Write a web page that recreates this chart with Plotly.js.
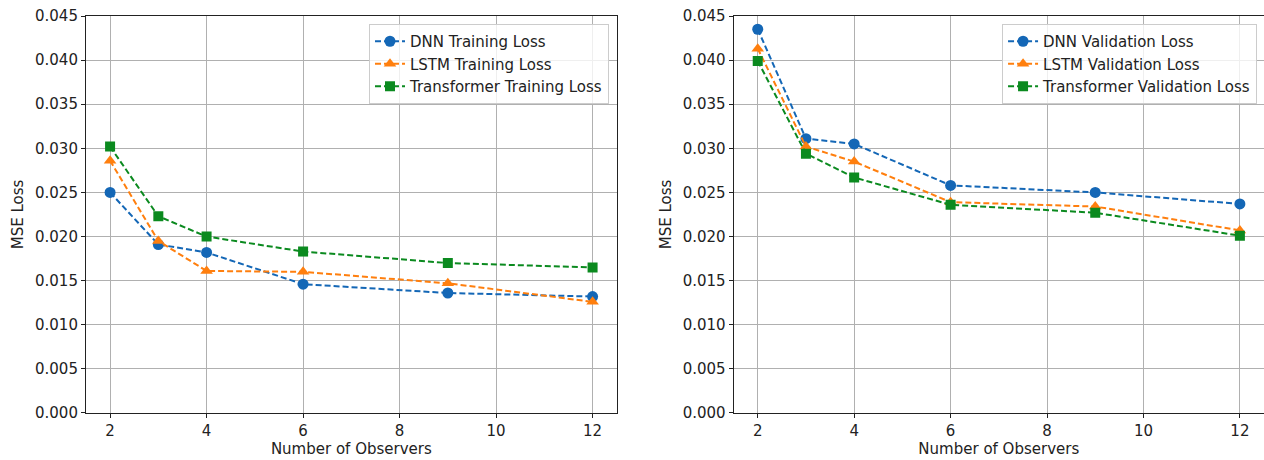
<!DOCTYPE html>
<html>
<head>
<meta charset="utf-8">
<script src="https://cdn.plot.ly/plotly-3.0.1.min.js"></script>
<style>html,body{margin:0;padding:0;background:#fff;}#chart{width:1264px;height:460px;}</style>
</head>
<body>
<div id="chart"></div>
<script>
const observers = [2, 3, 4, 6, 9, 12];

const dnnTrain = [0.0250, 0.0191, 0.0182, 0.0146, 0.0136, 0.0132];
const lstmTrain = [0.0286, 0.0195, 0.0161, 0.0160, 0.0147, 0.0126];
const transTrain = [0.0302, 0.0223, 0.0200, 0.0183, 0.0170, 0.0165];

const dnnVal = [0.0435, 0.0311, 0.0305, 0.0258, 0.0250, 0.0237];
const lstmVal = [0.0413, 0.0302, 0.0285, 0.0239, 0.0234, 0.0207];
const transVal = [0.0399, 0.0294, 0.0267, 0.0236, 0.0227, 0.0201];

const trainNames = ['DNN Training Loss', 'LSTM Training Loss', 'Transformer Training Loss'];
const valNames = ['DNN Validation Loss', 'LSTM Validation Loss', 'Transformer Validation Loss'];

const colors = ['#1467b6', '#ff7f0e', '#0b8a1f'];
const symbols = ['circle', 'triangle-up', 'square'];
const msizes = [11, 11, 10];
const dashPat = '6px,3px';

function mk(y, i, name, xa, ya, leg) {
  return {
    x: observers, y: y, name: name, type: 'scatter', mode: 'lines+markers',
    xaxis: xa, yaxis: ya, legend: leg,
    line: {color: colors[i], width: 2, dash: dashPat},
    marker: {color: colors[i], symbol: symbols[i], size: msizes[i], line: {width: 0}}
  };
}

const data = [
  mk(dnnTrain, 0, trainNames[0], 'x', 'y', 'legend'),
  mk(lstmTrain, 1, trainNames[1], 'x', 'y', 'legend'),
  mk(transTrain, 2, trainNames[2], 'x', 'y', 'legend'),
  mk(dnnVal, 0, valNames[0], 'x2', 'y2', 'legend2'),
  mk(lstmVal, 1, valNames[1], 'x2', 'y2', 'legend2'),
  mk(transVal, 2, valNames[2], 'x2', 'y2', 'legend2')
];

const fs = 15;
const tf = {family: 'DejaVu Sans', size: fs, color: '#222'};
const xBase = {
  range: [1.5, 12.5], dtick: 2, tick0: 0, ticks: 'outside', ticklen: 4, tickwidth: 1, tickcolor: '#222',
  showgrid: true, gridcolor: '#b0b0b0', gridwidth: 1, zeroline: false,
  showline: true, linecolor: '#222', linewidth: 1, mirror: true,
  tickfont: tf,
  title: {text: 'Number of Observers', font: tf, standoff: 4}
};
const yBase = {
  range: [0, 0.045], dtick: 0.005, tick0: 0, tickformat: '.3f', ticks: 'outside', ticklen: 4, tickwidth: 1, tickcolor: '#222',
  showgrid: true, gridcolor: '#b0b0b0', gridwidth: 1, zeroline: false,
  showline: true, linecolor: '#222', linewidth: 1, mirror: true,
  tickfont: tf,
  title: {text: 'MSE Loss', font: tf, standoff: 7}
};

const legBase = {
  xref: 'paper', yref: 'paper', xanchor: 'right', yanchor: 'top',
  bgcolor: 'rgba(255,255,255,0.8)', bordercolor: '#cccccc', borderwidth: 1,
  font: tf, tracegroupgap: 0
};

const layout = {
  width: 1264, height: 460,
  margin: {l: 0, r: 0, t: 0, b: 0},
  paper_bgcolor: '#fff', plot_bgcolor: '#fff',
  font: tf,
  showlegend: true,
  xaxis: Object.assign({}, xBase, {domain: [0.068, 0.4879], anchor: 'y'}),
  yaxis: Object.assign({}, yBase, {domain: [0.1022, 0.9652], anchor: 'x'}),
  xaxis2: Object.assign({}, xBase, {domain: [0.5804, 1.0], anchor: 'y2'}),
  yaxis2: Object.assign({}, yBase, {domain: [0.1022, 0.9652], anchor: 'x2'}),
  legend: Object.assign({}, legBase, {x: 0.4818, y: 0.9478}),
  legend2: Object.assign({}, legBase, {x: 0.9945, y: 0.9478})
};

Plotly.newPlot('chart', data, layout, {displayModeBar: false, staticPlot: true});
</script>
</body>
</html>
